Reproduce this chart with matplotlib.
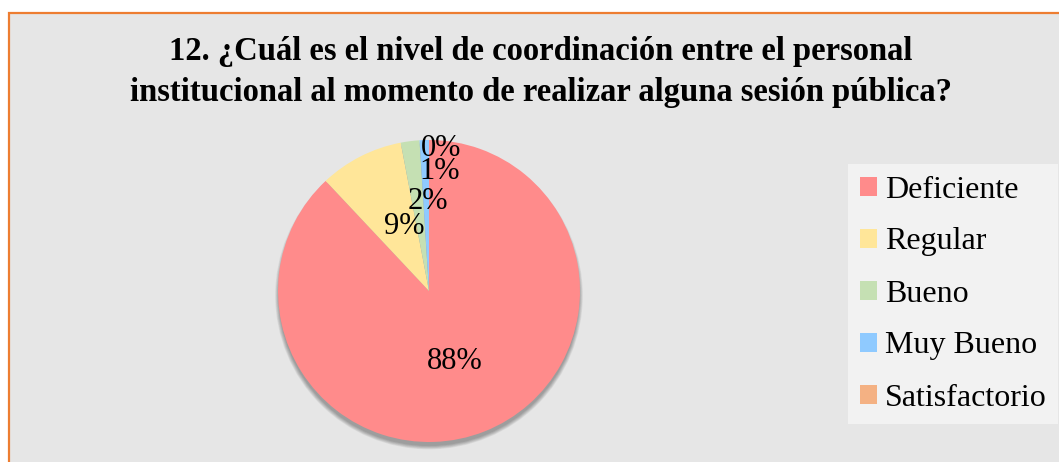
import matplotlib.pyplot as plt
from matplotlib.patches import Rectangle, Circle

categories = ['Deficiente', 'Regular', 'Bueno', 'Muy Bueno', 'Satisfactorio']
values = [88, 9, 2, 1, 0]
colors = ['#FF8B8B', '#FFE699', '#C5E0B3', '#8FCAFF', '#F4B183']
title = ('12. ¿Cuál es el nivel de coordinación entre el personal\n'
         'institucional al momento de realizar alguna sesión pública?')

# where Excel put the data labels (pie coords, radius = 1)
label_pos = [(0.17, -0.47), (-0.166, 0.43), (-0.007, 0.59), (0.073, 0.79), (0.079, 0.947)]

plt.rcParams['font.family'] = ['Liberation Serif', 'DejaVu Serif']

W, H = 1059, 462
fig = plt.figure(figsize=(W / 100, H / 100), dpi=100)
fig.patch.set_facecolor('white')

# chart area
fig.patches.append(Rectangle((9 / W, -0.1), 1.2, (H - 13) / H + 0.1, transform=fig.transFigure,
                             facecolor='#E6E6E6', edgecolor='#ED7D31', linewidth=1.6, zorder=-5))

fig.text(541 / W, (H - 72) / H, title, ha='center', va='center', fontsize=23.5,
         fontweight='bold', linespacing=1.38)

cx, cy, r = 429, 291, 151
ax = fig.add_axes([(cx - r) / W, (H - cy - r) / H, 2 * r / W, 2 * r / H])
ax.patch.set_visible(False)

# soft shadow, mostly under the bottom edge
for k in range(7):
    ax.add_patch(Circle((0, -0.03), 0.995 + k * 0.004, facecolor='black', alpha=0.05,
                        edgecolor='none', zorder=0, clip_on=False))

wedges, texts, autotexts = ax.pie(values, colors=colors, startangle=90, counterclock=False,
                                  autopct='%1.0f%%', pctdistance=0.5, radius=1,
                                  wedgeprops=dict(linewidth=0, zorder=1), textprops=dict(fontsize=22))
ax.set_xlim(-1, 1)
ax.set_ylim(-1, 1)
ax.set_aspect('auto')
ax.axis('off')
for t, (px, py) in zip(autotexts, label_pos):
    t.set_position((px, py))
    t.set_zorder(3)

leg = fig.legend(wedges, categories, loc='upper left', bbox_to_anchor=(848 / W, (H - 164) / H),
                 frameon=True, fancybox=False, fontsize=23, handlelength=0.55, handleheight=0.55,
                 handletextpad=0.25, labelspacing=0.72, borderpad=0.36, borderaxespad=0)
leg.get_frame().set_facecolor('#F2F2F2')
leg.get_frame().set_edgecolor('none')
leg.get_frame().set_alpha(1)

fig.savefig('out.png', dpi=100)
